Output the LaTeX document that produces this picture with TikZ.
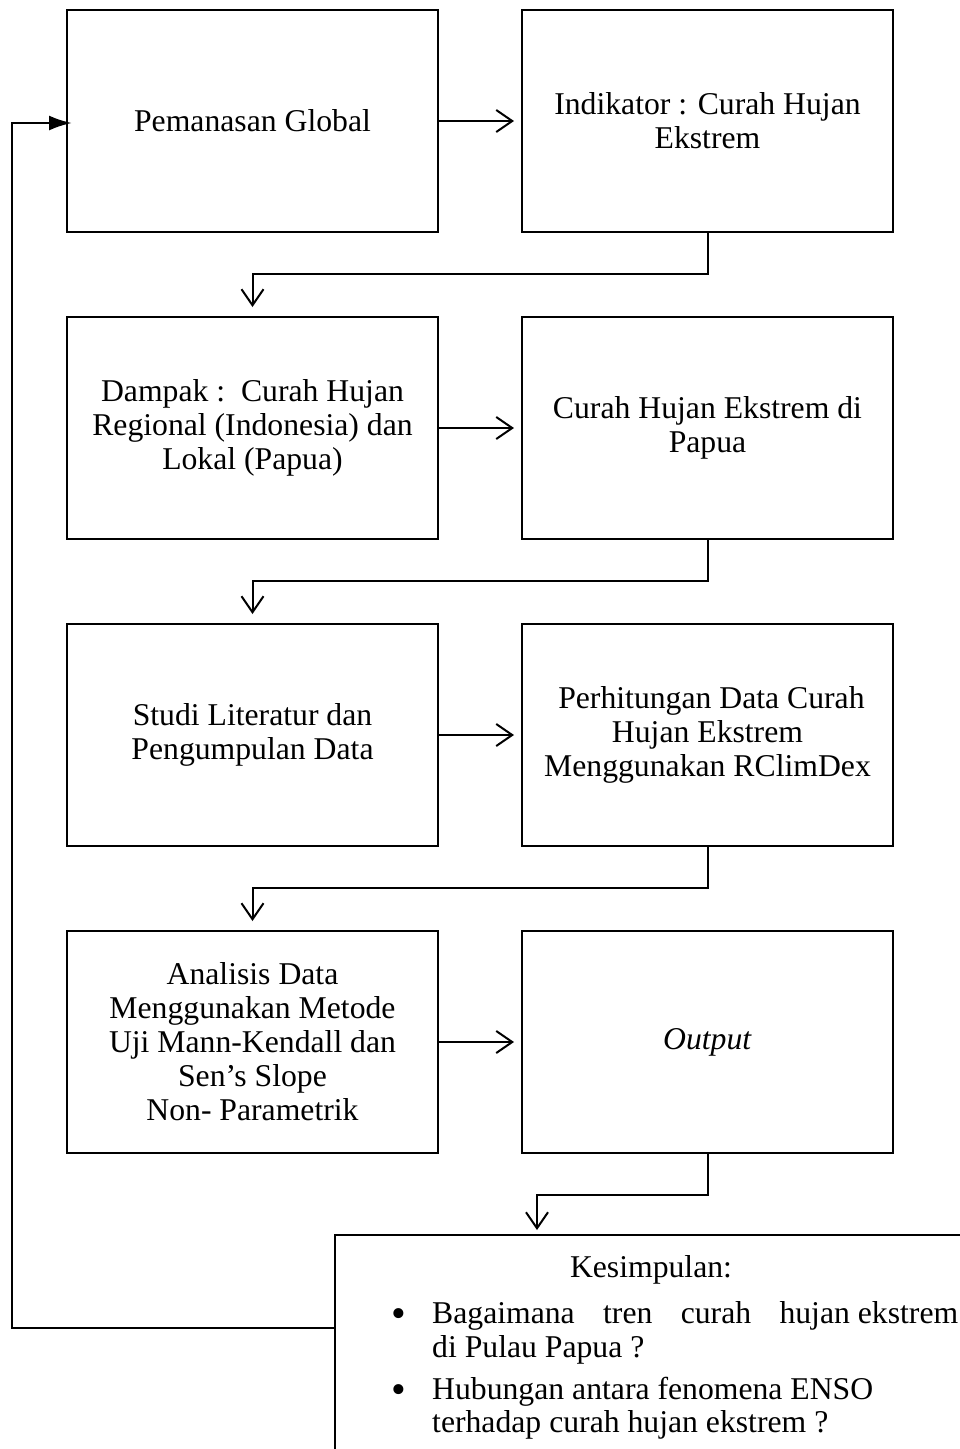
\documentclass[tikz,border=0pt]{standalone}
\usepackage{fontspec}
\setmainfont{Liberation Serif}
\usetikzlibrary{arrows.meta,calc}
\newcommand\boxfont{\fontsize{31.7}{34}\selectfont}
\newcommand\bulfont{\fontsize{42}{42}\selectfont}
\begin{document}
\begin{tikzpicture}[x=1pt,y=-1pt,
  box/.style={draw,line width=2pt,minimum width=371pt,minimum height=222pt,align=center,inner sep=0pt,font=\boxfont},
  txt/.style={font=\boxfont,inner sep=0pt},
  bul/.style={font=\bulfont,inner sep=0pt},
  arr/.style={line width=2pt,-{Straight Barb[length=16pt,width=22pt]}},
  fbarr/.style={line width=2.5pt,-{Latex[length=23pt,width=15pt]}}]
\useasboundingbox (0,0) rectangle (960,1449);
\node[box] (pem) at (252.5,121) {Pemanasan Global};
\node[box] (ind) at (707.5,121) {Indikator : Curah Hujan\\Ekstrem};
\node[box] (dam) at (252.5,428) {Dampak :\ \ Curah Hujan\\Regional (Indonesia) dan\\Lokal (Papua)};
\node[box] (chp) at (707.5,428) {Curah Hujan Ekstrem di\\Papua};
\node[box] (stu) at (252.5,735) {Studi Literatur dan\\Pengumpulan Data};
\node[box] (per) at (707.5,735) {\ Perhitungan Data Curah\\Hujan Ekstrem\\Menggunakan RClimDex};
\node[box] (ana) at (252.5,1042) {Analisis Data\\Menggunakan Metode\\Uji Mann-Kendall dan\\Sen’s Slope\\Non- Parametrik};
\node[box] (out) at (707.5,1042) {\textit{Output}};
\node[draw,line width=2pt,anchor=north west,minimum width=700pt,minimum height=300pt,inner sep=0pt] (kes) at (334,1234) {};
\node[txt] (k0) at (651,1270) {Kesimpulan:};
\node[bul] (b1) at (399,1318) {•};
\node[txt,anchor=base west] (k1) at (432,1323) {\makebox[526pt][s]{Bagaimana\hfill tren\hfill curah\hfill hujan ekstrem}};
\node[txt,anchor=base west] (k2) at (432,1357) {di Pulau Papua ?};
\node[bul] (b2) at (399,1394) {•};
\node[txt,anchor=base west] (k3) at (432,1399) {Hubungan antara fenomena ENSO};
\node[txt,anchor=base west] (k4) at (432,1432) {terhadap curah hujan ekstrem ?};
% horizontal arrows
\draw[arr,shorten >=7pt] (pem.east) -- (ind.west);
\draw[arr,shorten >=7pt] (dam.east) -- (chp.west);
\draw[arr,shorten >=7pt] (stu.east) -- (per.west);
\draw[arr,shorten >=7pt] (ana.east) -- (out.west);
% down connectors
\draw[arr,shorten >=9pt] (ind.south) -- ++(0,41) -| (dam.north);
\draw[arr,shorten >=9pt] (chp.south) -- ++(0,41) -| (stu.north);
\draw[arr,shorten >=9pt] (per.south) -- ++(0,41) -| (ana.north);
\coordinate (kin) at ($(kes.north west)+(203,0)$);
\draw[arr,shorten >=4pt] (out.south) -- ++(0,41) -| (kin);
% feedback
\coordinate (fb) at ($(kes.north west)+(0,94)$);
\coordinate (fbc) at ($(pem.west)+(-54,2)$);
\draw[fbarr,shorten >=-6pt] (fb) -| (fbc) -- ($(pem.west)+(0,2)$);
\end{tikzpicture}
\end{document}
